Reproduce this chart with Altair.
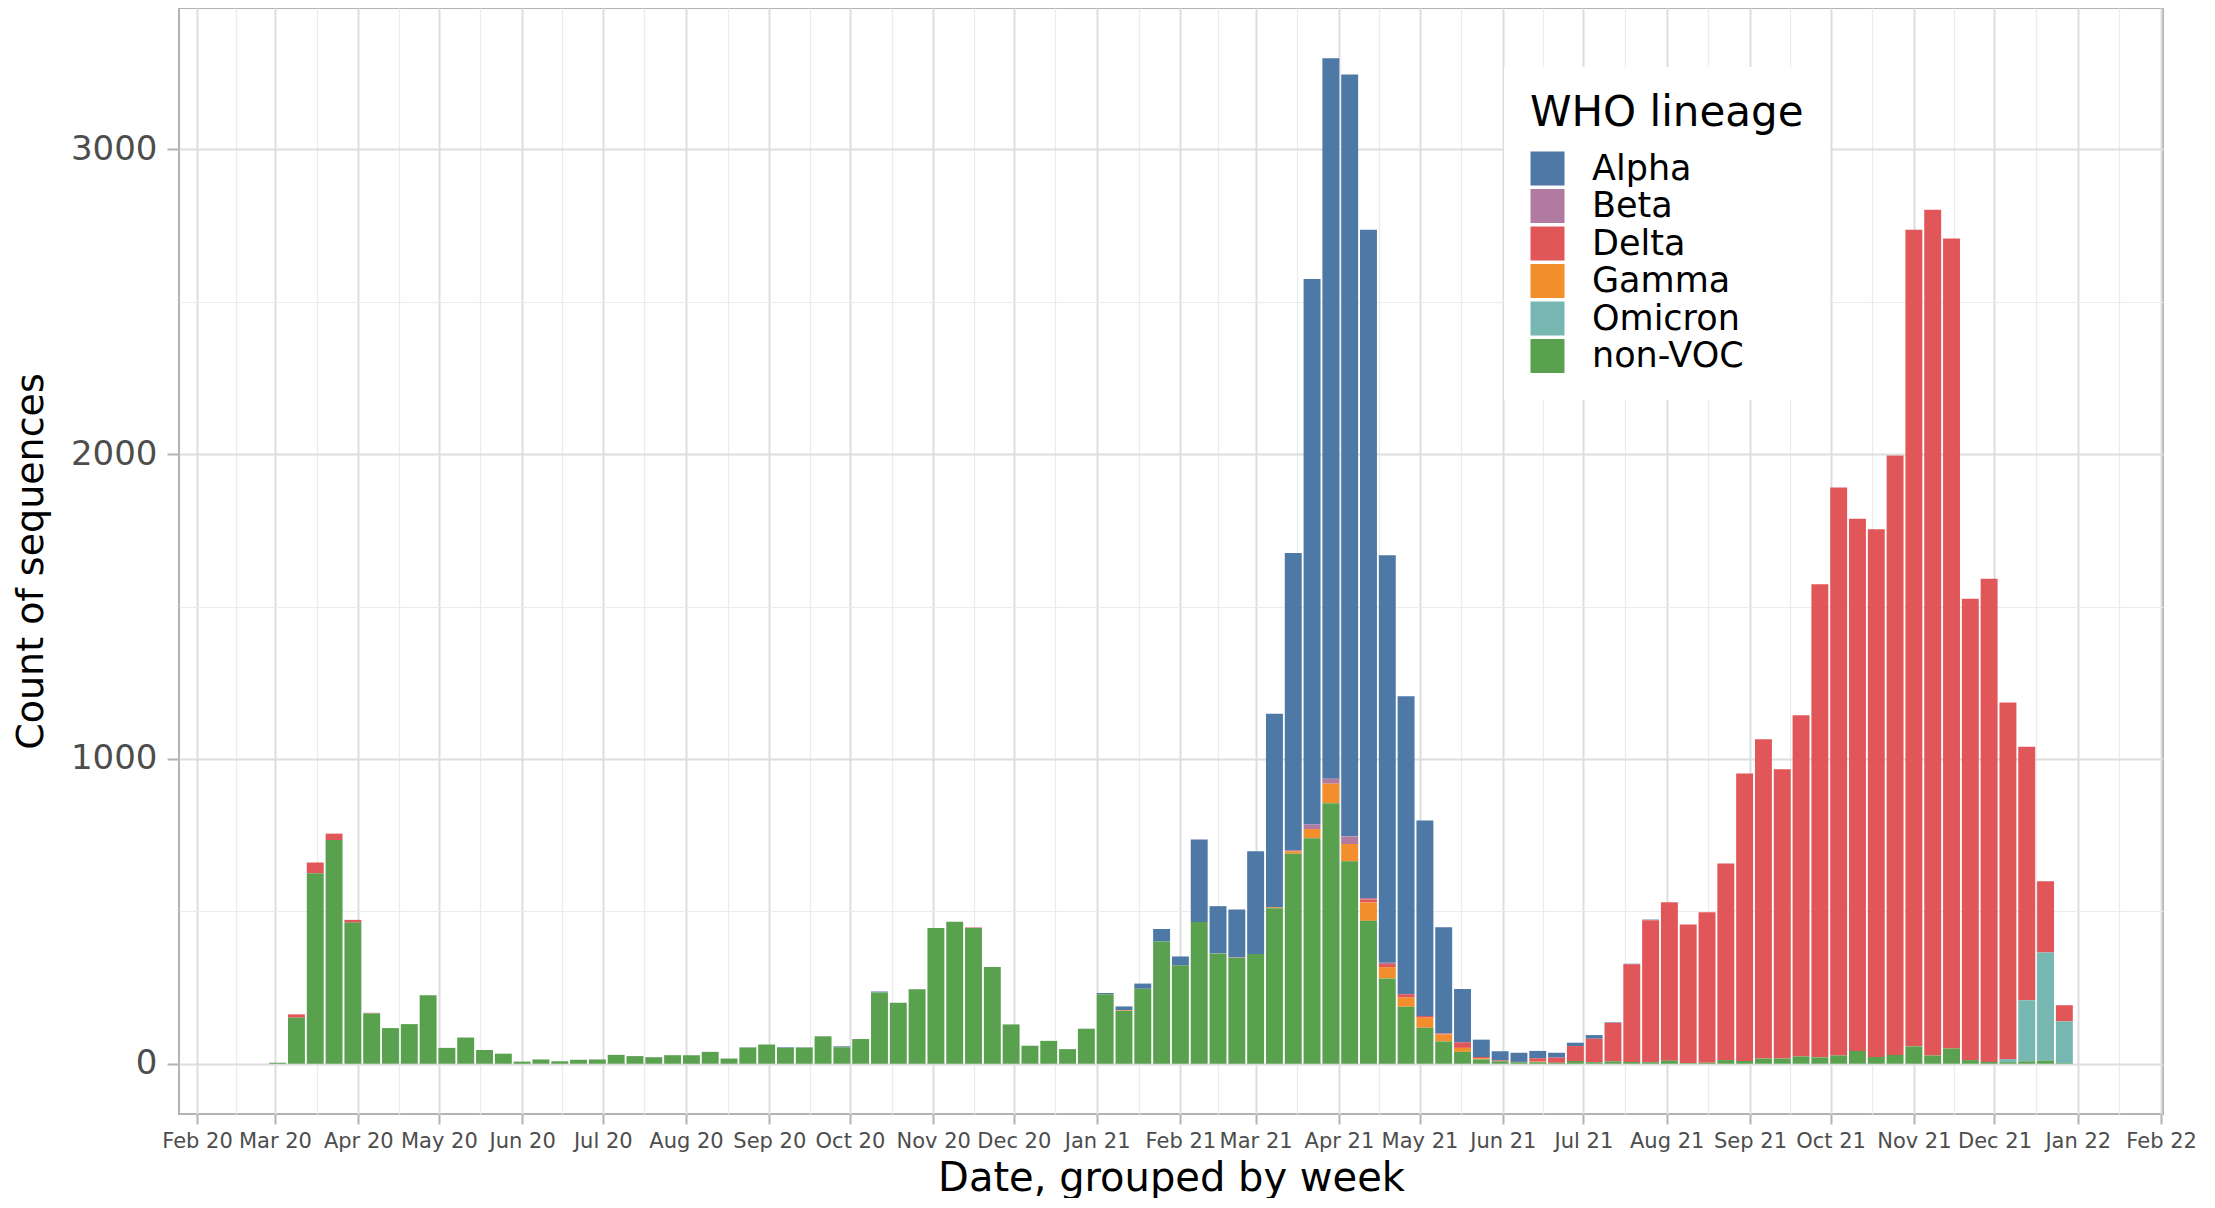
import altair as alt
import pandas as pd

# ---------------- data ----------------
first_week = "2020-03-02"          # weeks start on Mondays
n_weeks = 96

lineages = ["Alpha", "Beta", "Delta", "Gamma", "Omicron", "non-VOC"]
colors = ["#4E79A7", "#B07AA1", "#E15759", "#F28E2B", "#76B7B2", "#59A14F"]
stack_rank = {"non-VOC": 0, "Omicron": 1, "Gamma": 2, "Delta": 3, "Beta": 4, "Alpha": 5}

non_voc = [3, 151, 625, 734, 463, 165, 117, 130, 225, 52,
           86, 45, 33, 7, 14, 8, 13, 14, 29, 25,
           21, 28, 28, 39, 17, 53, 63, 52, 53, 90,
           54, 81, 234, 200, 244, 445, 466, 445, 317, 129,
           59, 75, 48, 115, 228, 173, 246, 401, 322, 465,
           362, 348, 360, 510, 689, 740, 855, 664, 469, 280,
           187, 118, 73, 39, 14, 8, 5, 5, 3, 9,
           5, 8, 6, 5, 10, 2, 3, 12, 9, 17,
           17, 24, 21, 27, 42, 22, 29, 57, 27, 50,
           12, 6, 5, 8, 10, 2]

alpha = [0, 0, 0, 0, 0, 0, 0, 0, 0, 0,
         0, 0, 0, 0, 0, 0, 0, 0, 0, 0,
         1, 0, 0, 0, 0, 1, 0, 2, 1, 0,
         3, 0, 3, 0, 0, 0, 0, 0, 0, 0,
         0, 0, 0, 0, 4, 13, 17, 41, 30, 271,
         155, 157, 337, 635, 975, 1790, 2364, 2500, 2192, 1337,
         978, 641, 349, 175, 57, 30, 30, 24, 16, 11,
         12, 2, 2, 2, 0, 0, 0, 0, 0, 0,
         0, 0, 0, 0, 0, 0, 0, 0, 0, 0,
         0, 0, 0, 0, 0, 0]

beta = [0, 0, 0, 0, 0, 0, 0, 0, 0, 0,
        0, 0, 0, 0, 0, 0, 0, 0, 0, 0,
        0, 0, 0, 0, 0, 0, 0, 0, 0, 0,
        0, 0, 0, 0, 0, 0, 0, 0, 0, 0,
        0, 0, 0, 0, 0, 0, 0, 0, 0, 0,
        0, 0, 0, 0, 4, 15, 16, 25, 5, 4,
        0, 0, 0, 0, 0, 0, 0, 0, 0, 0,
        0, 0, 0, 0, 0, 0, 0, 0, 0, 0,
        0, 0, 0, 0, 0, 0, 0, 0, 0, 0,
        0, 0, 0, 0, 0, 0]

delta = [0, 11, 35, 21, 9, 2, 0, 0, 0, 0,
         0, 0, 0, 0, 0, 0, 0, 0, 0, 0,
         0, 0, 0, 0, 0, 0, 0, 0, 0, 0,
         0, 0, 0, 0, 0, 0, 0, 2, 0, 0,
         0, 0, 0, 0, 0, 0, 0, 0, 0, 0,
         0, 1, 0, 0, 0, 0, 0, 0, 10, 10,
         11, 6, 3, 18, 4, 3, 1, 11, 17, 49,
         77, 126, 320, 466, 520, 455, 494, 645, 943, 1048,
         949, 1119, 1552, 1864, 1746, 1732, 1967, 2679, 2775, 2658,
         1514, 1585, 1170, 832, 234, 53]

gamma = [0, 0, 0, 0, 0, 0, 0, 0, 0, 0,
         0, 0, 0, 0, 0, 0, 0, 0, 0, 0,
         0, 0, 0, 0, 0, 0, 0, 0, 0, 0,
         0, 0, 0, 0, 0, 0, 0, 0, 0, 0,
         0, 0, 0, 0, 0, 2, 0, 0, 0, 0,
         0, 0, 0, 3, 8, 30, 64, 57, 60, 37,
         30, 33, 23, 13, 4, 0, 0, 2, 0, 0,
         0, 0, 0, 0, 0, 0, 0, 0, 0, 0,
         0, 0, 0, 0, 0, 0, 0, 0, 0, 0,
         0, 0, 0, 0, 0, 0]

omicron = [0] * 92 + [10, 200, 355, 137]

series = {"Alpha": alpha, "Beta": beta, "Delta": delta,
          "Gamma": gamma, "Omicron": omicron, "non-VOC": non_voc}

# x-axis breaks: month starts (labelled) and mid-month minor grid lines
month_breaks = pd.date_range("2020-02-01", "2022-02-01", freq="MS")

# ---------------- build table ----------------
weeks = pd.date_range(first_week, periods=n_weeks, freq="7D")
rows = []
for lin, vals in series.items():
    for w, v in zip(weeks, vals):
        if v > 0:
            rows.append({"week": w.strftime("%Y-%m-%d"), "lineage": lin,
                         "count": v, "rank": stack_rank[lin]})
df = pd.DataFrame(rows)


def ms(ts):
    return int(pd.Timestamp(ts).tz_localize("UTC").value // 10**6)


half_bar_ms = int(0.45 * 7 * 86400000)
t0 = ms(weeks[0]) - half_bar_ms
t1 = ms(weeks[-1]) + half_bar_ms
span = t1 - t0
x_domain = [t0 - 0.05 * span, t1 + 0.05 * span]

totals = [sum(v[i] for v in series.values()) for i in range(n_weeks)]
ymax = max(totals)
y_domain = [-0.05 * ymax, ymax * 1.05]

major_ms = [ms(m) for m in month_breaks]
minor_ms = [(a + b) / 2 for a, b in zip(major_ms[:-1], major_ms[1:])]
x_values = sorted(major_ms + minor_ms)
y_values = list(range(0, 3001, 500))

is_major_x = "utcdate(datum.value) == 1"
is_major_y = "datum.value % 1000 == 0"

FONT = "DejaVu Sans"

x_axis = alt.Axis(
    values=x_values,
    labelExpr=f"{is_major_x} ? utcFormat(datum.value, '%b %y') : ''",
    labelFontSize=21, labelColor="#4D4D4D", labelPadding=6,
    tickSize=10, tickColor="#B3B3B3", tickWidth=2,
    tickOpacity={"condition": {"test": is_major_x, "value": 1}, "value": 0},
    gridColor={"condition": {"test": is_major_x, "value": "#DEDEDE"}, "value": "#EBEBEB"},
    gridWidth={"condition": {"test": is_major_x, "value": 2}, "value": 1.2},
    domain=False, labelOverlap=False, labelFlush=False,
    titleFontSize=40, titleFontWeight="normal", titleColor="black", titlePadding=7,
)

y_axis = alt.Axis(
    values=y_values,
    labelExpr=f"{is_major_y} ? format(datum.value, 'd') : ''",
    labelFontSize=34, labelColor="#4D4D4D", labelPadding=10,
    tickSize=12, tickColor="#B3B3B3", tickWidth=2,
    tickOpacity={"condition": {"test": is_major_y, "value": 1}, "value": 0},
    gridColor={"condition": {"test": is_major_y, "value": "#DEDEDE"}, "value": "#EBEBEB"},
    gridWidth={"condition": {"test": is_major_y, "value": 2}, "value": 1.2},
    domain=False, labelOverlap=False,
    titleFontSize=38, titleFontWeight="normal", titleColor="black", titlePadding=20,
)

legend = alt.Legend(
    title="WHO lineage", orient="none", legendX=1325, legendY=59,
    fillColor="white", padding=26,
    titleFontSize=42, titleFontWeight="normal", titleColor="black", titlePadding=16,
    titleLimit=600,
    labelFontSize=35, labelColor="black", labelOffset=27,
    symbolType="square", symbolSize=1156, symbolStrokeWidth=0, symbolOpacity=1,
    rowPadding=1.5, labelLimit=400,
)

chart = (
    alt.Chart(df)
    .transform_stack(
        stack="count", groupby=["week"], as_=["y_lo", "y_hi"],
        sort=[alt.SortField("rank", order="ascending")],
    )
    .transform_calculate(
        x0=f"toDate(datum.week) - {half_bar_ms}",
        x1=f"toDate(datum.week) + {half_bar_ms}",
    )
    .mark_bar()
    .encode(
        x=alt.X("x0:T", title="Date, grouped by week",
                scale=alt.Scale(type="utc", domain=x_domain, nice=False),
                axis=x_axis),
        x2="x1:T",
        y=alt.Y("y_lo:Q", title="Count of sequences",
                scale=alt.Scale(domain=y_domain, nice=False, zero=False),
                axis=y_axis),
        y2="y_hi:Q",
        color=alt.Color("lineage:N",
                        scale=alt.Scale(domain=lineages, range=colors),
                        legend=legend),
    )
    .properties(width=1984, height=1106,
                padding={"left": 4, "top": 0, "right": 5, "bottom": 0})
    .configure(font=FONT)
    .configure_view(stroke="#B3B3B3", strokeWidth=2)
)

chart.save("out.html", embed_options={"renderer": "svg", "actions": False})
